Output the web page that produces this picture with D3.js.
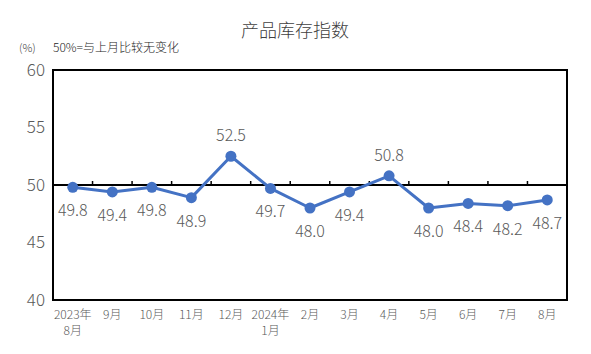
<!DOCTYPE html>
<html>
<head>
<meta charset="utf-8">
<script src="https://cdn.jsdelivr.net/npm/d3@7"></script>
<style>
	body { margin: 0; background: #fff; }
	svg text { font-family: "Noto Sans CJK SC", "Liberation Sans", sans-serif; font-weight: 300; }
</style>
</head>
<body>
<svg id="chart" width="591" height="354"></svg>
<script>
// months on the x axis (second line where a year starts)
var months = ["2023年\n8月", "9月", "10月", "11月", "12月", "2024年\n1月", "2月", "3月", "4月", "5月", "6月", "7月", "8月"];
var values = [49.8, 49.4, 49.8, 48.9, 52.5, 49.7, 48.0, 49.4, 50.8, 48.0, 48.4, 48.2, 48.7];
var yTicks = [40, 45, 50, 55, 60];
// which labels sit above their point
var labelAbove = [false, false, false, false, true, false, false, false, true, false, false, false, false];

var svg = d3.select("#chart"),
	margin = {top: 70, left: 53, bottom: 54, right: 24},
	width = +svg.attr("width"),
	height = +svg.attr("height");

var x = d3.scaleBand()
	.domain(months)
	.range([margin.left, width - margin.right])
	.padding(0);

var y = d3.scaleLinear()
	.domain([40, 60])
	.range([height - margin.bottom, margin.top]);

var lineColor = "#4472c4";

// title
svg.append("text")
	.attr("x", 295)
	.attr("y", 37)
	.attr("text-anchor", "middle")
	.style("font-size", "18px")
	.attr("fill", "#404040")
	.text("产品库存指数");

svg.append("text")
	.attr("x", 19)
	.attr("y", 52)
	.style("font-size", "11px")
	.attr("fill", "#404040")
	.text("(%)");

svg.append("text")
	.attr("x", 53)
	.attr("y", 52)
	.style("font-size", "12px")
	.attr("fill", "#262626")
	.text("50%=与上月比较无变化");

// y axis labels only
var yAxis = svg.append("g")
	.attr("transform", `translate(${margin.left},0)`)
	.call(d3.axisLeft(y).tickValues(yTicks).tickSize(0).tickPadding(8));
yAxis.select(".domain").remove();
yAxis.selectAll("text")
	.style("font-size", "17px")
	.attr("fill", "#595959");

// frame
svg.append("rect")
	.attr("x", margin.left)
	.attr("y", margin.top)
	.attr("width", width - margin.left - margin.right)
	.attr("height", height - margin.top - margin.bottom)
	.attr("fill", "none")
	.attr("stroke", "#000")
	.attr("stroke-width", 2);

// 50 line with small ticks between months
var xAxis = svg.append("g")
	.attr("transform", `translate(0,${y(50)})`);
xAxis.append("line")
	.attr("x1", margin.left)
	.attr("x2", width - margin.right)
	.attr("stroke", "#000")
	.attr("stroke-width", 2);
xAxis.selectAll(".tick-mark")
	.data(months.slice(1))
	.enter().append("line")
	.attr("class", "tick-mark")
	.attr("x1", d => x(d))
	.attr("x2", d => x(d))
	.attr("y1", 0)
	.attr("y2", -4)
	.attr("stroke", "#000")
	.attr("stroke-width", 1.5);

// month labels
var labels = svg.append("g")
	.selectAll(".month")
	.data(months)
	.enter().append("text")
	.attr("class", "month")
	.attr("text-anchor", "middle")
	.style("font-size", "12px")
	.attr("fill", "#595959");
labels.each(function(d) {
	var parts = d.split("\n");
	var t = d3.select(this);
	parts.forEach(function(p, i) {
		t.append("tspan")
			.attr("x", x(d) + x.bandwidth() / 2)
			.attr("y", 319 + i * 16)
			.text(p);
	});
});

// line and points
var data = months.map((m, i) => ({month: m, value: values[i], above: labelAbove[i]}));
var cx = d => x(d.month) + x.bandwidth() / 2;

svg.append("path")
	.datum(data)
	.attr("fill", "none")
	.attr("stroke", lineColor)
	.attr("stroke-width", 3)
	.attr("stroke-linejoin", "round")
	.attr("d", d3.line().x(cx).y(d => y(d.value)));

svg.selectAll(".dot")
	.data(data)
	.enter().append("circle")
	.attr("class", "dot")
	.attr("cx", cx)
	.attr("cy", d => y(d.value))
	.attr("r", 5.5)
	.attr("fill", lineColor);

svg.selectAll(".labels")
	.data(data)
	.enter().append("text")
	.attr("class", "labels")
	.attr("x", cx)
	.attr("y", d => d.above ? y(d.value) - 15 : y(d.value) + 29)
	.attr("text-anchor", "middle")
	.style("font-size", "16px")
	.attr("fill", "#595959")
	.text(d => d.value.toFixed(1));
</script>
</body>
</html>
